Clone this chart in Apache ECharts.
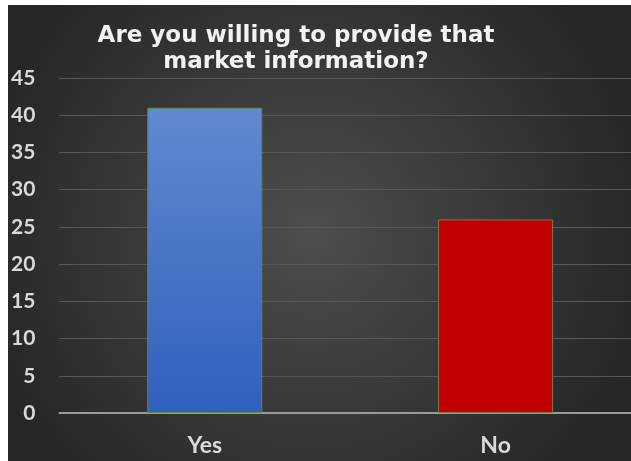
<!DOCTYPE html>
<html>
<head>
<meta charset="utf-8">
<script src="https://cdn.jsdelivr.net/npm/echarts@6/dist/echarts.min.js"></script>
<style>
  html, body { margin: 0; padding: 0; background: #ffffff; overflow: hidden; width: 631px; height: 461px; }
  #chart { position: absolute; left: 8px; top: 5px; width: 633px; height: 456px; }
</style>
</head>
<body>
<div id="chart"></div>
<script>
// Survey answers
const categories = ['Yes', 'No'];
const responses = [41, 26];
const titleText = 'Are you willing to provide that\nmarket information?';

const barStyles = [
  {
    color: {
      type: 'linear', x: 0, y: 0, x2: 0, y2: 1,
      colorStops: [{ offset: 0, color: '#6289d0' }, { offset: 1, color: '#2e60bd' }]
    },
    borderColor: '#5f8a48', borderWidth: 1
  },
  { color: '#c00000', borderColor: '#86763e', borderWidth: 1 }
];

const chart = echarts.init(document.getElementById('chart'));
chart.setOption({
  backgroundColor: {
    type: 'radial', x: 0.48, y: 0.5, r: 0.75,
    colorStops: [
      { offset: 0, color: '#4d4d4d' },
      { offset: 1, color: '#262626' }
    ]
  },
  title: {
    text: titleText,
    left: 283, top: 13,
    textAlign: 'center',
    textStyle: {
      color: '#f2f2f2', fontFamily: 'DejaVu Sans', fontWeight: 'bold',
      fontSize: 23, lineHeight: 26
    }
  },
  grid: { left: 51, right: 0, top: 73, bottom: 48 },
  xAxis: {
    type: 'category',
    data: categories,
    axisLine: { lineStyle: { color: '#9a9a9a', width: 2 } },
    axisTick: { show: false },
    axisLabel: {
      color: '#d9d9d9', fontFamily: 'Lato', fontWeight: 'bold', fontSize: 23,
      margin: 21
    }
  },
  yAxis: {
    type: 'value',
    min: 0, max: 45, interval: 5,
    axisLine: { show: false },
    axisTick: { show: false },
    splitLine: { lineStyle: { color: '#575757', width: 1 } },
    axisLabel: {
      color: '#d9d9d9', fontFamily: 'Lato', fontWeight: 'bold', fontSize: 21,
      margin: 24
    }
  },
  series: [{
    type: 'bar',
    barWidth: 115,
    data: responses.map((v, i) => ({ value: v, itemStyle: barStyles[i] }))
  }],
  animation: false
});
</script>
</body>
</html>
